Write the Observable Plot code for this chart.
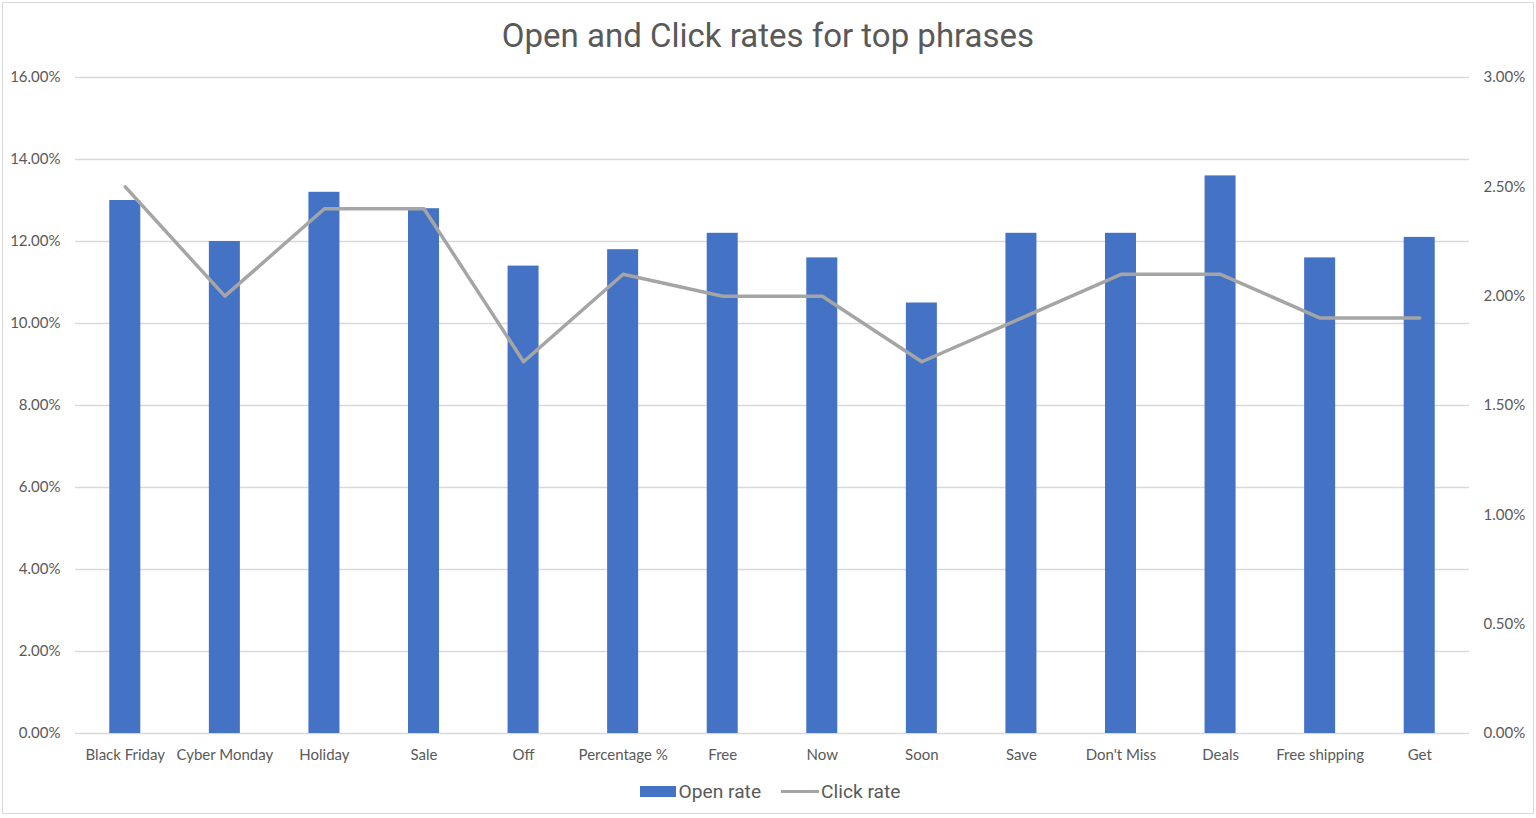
<!DOCTYPE html>
<html>
<head>
<meta charset="utf-8">
<script src="https://cdn.jsdelivr.net/npm/d3@7"></script>
<script src="https://cdn.jsdelivr.net/npm/@observablehq/plot@0.6"></script>
<style>
  html, body { margin: 0; padding: 0; background: #fff; }
  #page { position: relative; width: 1536px; height: 818px; overflow: hidden; }
  #frame { position: absolute; left: 2px; top: 2px; width: 1532px; height: 812px; border: 1px solid #d9d9d9; box-sizing: border-box; }
  #title { position: absolute; left: 0; top: 16px; width: 100%; text-align: center; font-family: Roboto, sans-serif; font-size: 33px; color: #595959; }
  #chart { position: absolute; left: 0; top: 57px; width: 1536px; }
  #chart svg { max-width: none !important; }
  #legend { position: absolute; left: 2px; top: 780px; width: 100%; display: flex; justify-content: center; align-items: center; font-family: Roboto, sans-serif; font-size: 19.2px; color: #595959; }
  .sw-bar { display: inline-block; width: 36px; height: 11px; background: #4472c4; margin-right: 3px; }
  .sw-line { display: inline-block; width: 38px; height: 3.5px; background: #a5a5a5; margin-left: 20px; margin-right: 2px; }
</style>
</head>
<body>
<div id="page">
  <div id="frame"></div>
  <div id="title">Open and Click rates for top phrases</div>
  <div id="chart"></div>
  <div id="legend"><span class="sw-bar"></span><span>Open rate</span><span class="sw-line"></span><span>Click rate</span></div>
</div>
<script>
const categories = ["Black Friday", "Cyber Monday", "Holiday", "Sale", "Off", "Percentage %", "Free", "Now", "Soon", "Save", "Don't Miss", "Deals", "Free shipping", "Get"];
const openRate = [13.0, 12.0, 13.2, 12.8, 11.4, 11.8, 12.2, 11.6, 10.5, 12.2, 12.2, 13.6, 11.6, 12.1];
const clickRate = [2.5, 2.0, 2.4, 2.4, 1.7, 2.1, 2.0, 2.0, 1.7, 1.9, 2.1, 2.1, 1.9, 1.9];
const leftTicks = [0, 2, 4, 6, 8, 10, 12, 14, 16];
const rightTicks = [0, 0.5, 1.0, 1.5, 2.0, 2.5, 3.0];

const leftMax = 16, rightMax = 3;
const k = leftMax / rightMax;
const rows = categories.map((c, i) => ({cat: c, open: openRate[i], click: clickRate[i], clickScaled: clickRate[i] * k}));

const W = 1536;
const mL = 75, mR = 67;
const step = (W - mL - mR) / categories.length;
const barW = 31;
const inset = (step - barW) / 2;

const chart = Plot.plot({
  width: W,
  height: 716,
  marginTop: 20,
  marginBottom: 40,
  marginLeft: mL,
  marginRight: mR,
  style: {fontFamily: "Lato, 'Open Sans', sans-serif", fontSize: "15px", color: "#595959", background: "transparent"},
  x: {domain: categories, padding: 0, round: false, label: null},
  y: {domain: [0, leftMax], label: null},
  marks: [
    Plot.ruleY(leftTicks, {stroke: "#d9d9d9", strokeWidth: 1.3}),
    Plot.barY(rows, {x: "cat", y: "open", fill: "#4472c4", insetLeft: inset, insetRight: inset}),
    Plot.line(rows, {x: "cat", y: "clickScaled", stroke: "#a5a5a5", strokeWidth: 3.5, strokeLinejoin: "round"}),
    Plot.axisX({tickSize: 0, tickPadding: 16, label: null}),
    Plot.axisY({anchor: "left", ticks: leftTicks, tickSize: 0, tickPadding: 15, tickFormat: d => d.toFixed(2) + "%", label: null}),
    Plot.axisY({anchor: "right", ticks: rightTicks.map(v => v * k), tickSize: 0, tickPadding: 14, tickFormat: d => (d / k).toFixed(2) + "%", label: null})
  ]
});
document.getElementById("chart").appendChild(chart);
</script>
</body>
</html>
